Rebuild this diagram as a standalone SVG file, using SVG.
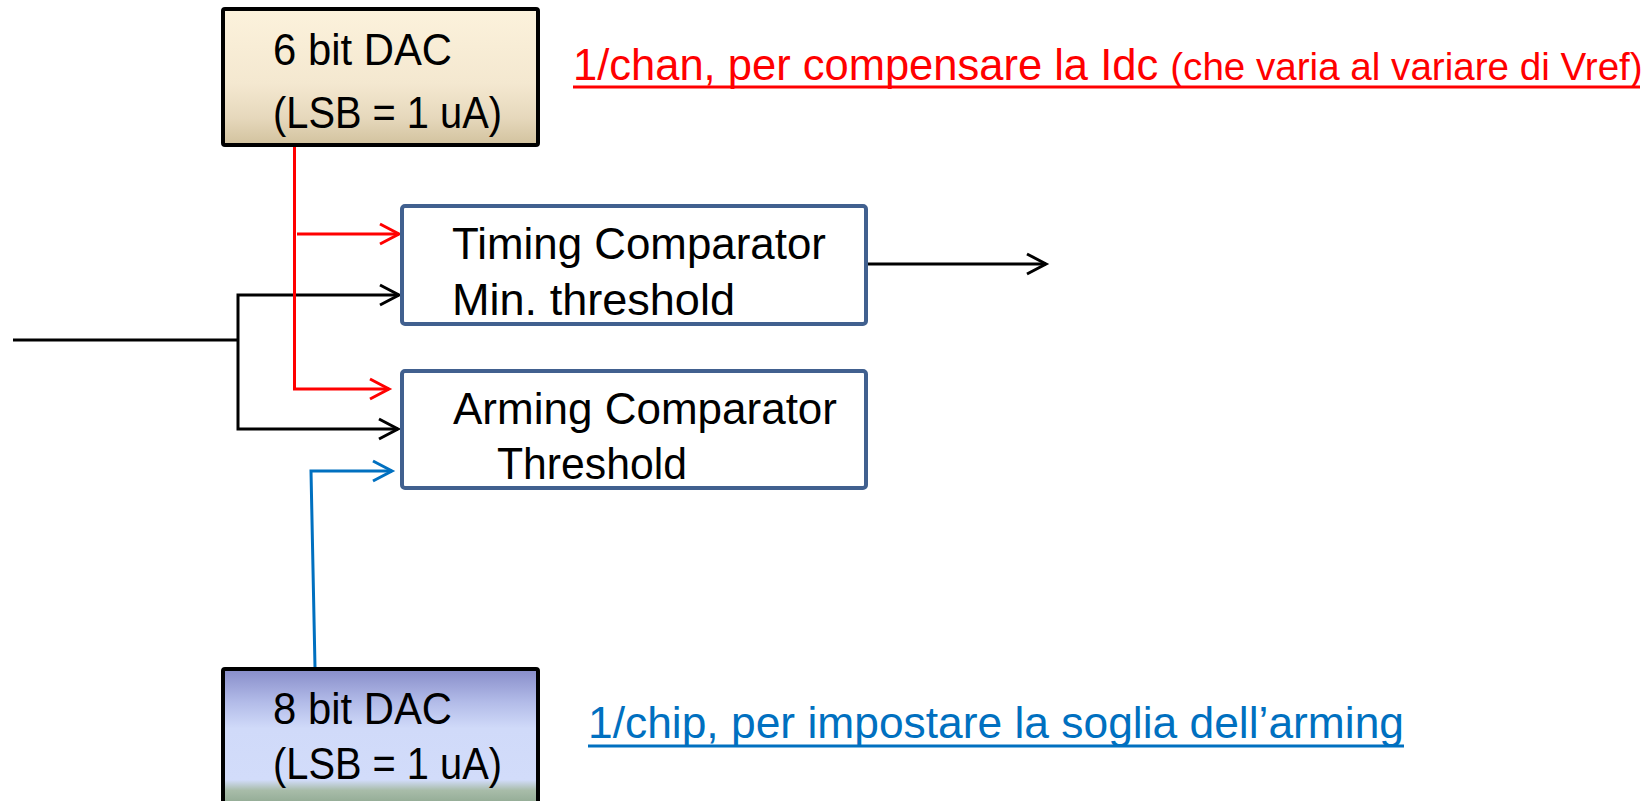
<svg xmlns="http://www.w3.org/2000/svg" width="1647" height="801" viewBox="0 0 1647 801">
  <style>
    .lbl { font-family: "Liberation Sans", Arial, sans-serif; font-size: 44px; fill: #000; }
    .dac { stroke: #000; stroke-width: 4; }
    .cmp { fill: #fff; stroke: #41608F; stroke-width: 4; }
    .wire { fill: none; stroke-width: 3; stroke-linejoin: miter; }
    .k { stroke: #000; }
    .r { stroke: #FF0000; }
    .b { stroke: #0070C0; }
    .note { font-family: "Liberation Sans", Arial, sans-serif; font-size: 43.5px; }
    .ul { stroke-width: 3; }
  </style>
  <defs>
    <linearGradient id="gDac6" x1="0" y1="9" x2="0" y2="145" gradientUnits="userSpaceOnUse">
      <stop offset="0" stop-color="#FCF2DC"/>
      <stop offset="0.55" stop-color="#F4E8D0"/>
      <stop offset="0.8" stop-color="#E6D8BC"/>
      <stop offset="1" stop-color="#D2C29E"/>
    </linearGradient>
    <linearGradient id="gDac8" x1="0" y1="669" x2="0" y2="801" gradientUnits="userSpaceOnUse">
      <stop offset="0" stop-color="#878CC9"/>
      <stop offset="0.25" stop-color="#B2BBE8"/>
      <stop offset="0.45" stop-color="#D0DAF9"/>
      <stop offset="0.84" stop-color="#D2DCFA"/>
      <stop offset="0.92" stop-color="#A8BCA9"/>
      <stop offset="1" stop-color="#96AE98"/>
    </linearGradient>
    <marker id="aK" markerWidth="24" markerHeight="24" refX="19" refY="10" orient="auto" markerUnits="userSpaceOnUse" overflow="visible">
      <path d="M0,0 L19,10 L0,20" fill="none" stroke="#000" stroke-width="3"/>
    </marker>
    <marker id="aR" markerWidth="24" markerHeight="24" refX="19" refY="10" orient="auto" markerUnits="userSpaceOnUse" overflow="visible">
      <path d="M0,0 L19,10 L0,20" fill="none" stroke="#FF0000" stroke-width="3"/>
    </marker>
    <marker id="aB" markerWidth="24" markerHeight="24" refX="19" refY="10" orient="auto" markerUnits="userSpaceOnUse" overflow="visible">
      <path d="M0,0 L19,10 L0,20" fill="none" stroke="#0070C0" stroke-width="3"/>
    </marker>
  </defs>

  <g id="connectors">
    <path class="wire k" d="M13,340 L238,340"/>
    <path class="wire k" d="M238,340 L238,295 L399,295" marker-end="url(#aK)"/>
    <path class="wire k" d="M238,340 L238,429 L398,429" marker-end="url(#aK)"/>
    <path class="wire r" d="M294.5,147 L294.5,389 L389,389" marker-end="url(#aR)"/>
    <path class="wire r" d="M297,234 L399,234" marker-end="url(#aR)"/>
    <path class="wire b" d="M315,667 L311,471 L392,471" marker-end="url(#aB)"/>
    <path class="wire k" d="M868,264 L1046,264" marker-end="url(#aK)"/>
  </g>

  <g id="dac6">
    <rect class="dac" x="223" y="9" width="315" height="136" rx="2" fill="url(#gDac6)"/>
    <text class="lbl" x="273" y="65" textLength="179" lengthAdjust="spacingAndGlyphs">6 bit DAC</text>
    <text class="lbl" x="273" y="128" textLength="229" lengthAdjust="spacingAndGlyphs">(LSB = 1 uA)</text>
  </g>

  <g id="timing">
    <rect class="cmp" x="402" y="206" width="464" height="118" rx="3"/>
    <text class="lbl" x="452" y="259" textLength="374" lengthAdjust="spacingAndGlyphs">Timing Comparator</text>
    <text class="lbl" x="452" y="315" textLength="283" lengthAdjust="spacingAndGlyphs">Min. threshold</text>
  </g>

  <g id="arming">
    <rect class="cmp" x="402" y="371" width="464" height="117" rx="3"/>
    <text class="lbl" x="453" y="424" textLength="384" lengthAdjust="spacingAndGlyphs">Arming Comparator</text>
    <text class="lbl" x="497" y="479" textLength="190" lengthAdjust="spacingAndGlyphs">Threshold</text>
  </g>

  <g id="dac8">
    <rect class="dac" x="223" y="669" width="315" height="160" rx="2" fill="url(#gDac8)"/>
    <text class="lbl" x="273" y="724" textLength="179" lengthAdjust="spacingAndGlyphs">8 bit DAC</text>
    <text class="lbl" x="273" y="779" textLength="229" lengthAdjust="spacingAndGlyphs">(LSB = 1 uA)</text>
  </g>

  <g id="note-chan">
    <text class="note" x="573" y="80" fill="#FF0000">1/chan, per compensare la Idc <tspan font-size="38.6">(che varia al variare di Vref)</tspan></text>
    <line class="ul" x1="573" y1="87" x2="1640" y2="87" stroke="#FF0000"/>
  </g>

  <g id="note-chip">
    <text class="note" x="588" y="738" fill="#0070C0" textLength="816" lengthAdjust="spacingAndGlyphs">1/chip, per impostare la soglia dell’arming</text>
    <line class="ul" x1="588" y1="746" x2="1404" y2="746" stroke="#0070C0"/>
  </g>
</svg>
